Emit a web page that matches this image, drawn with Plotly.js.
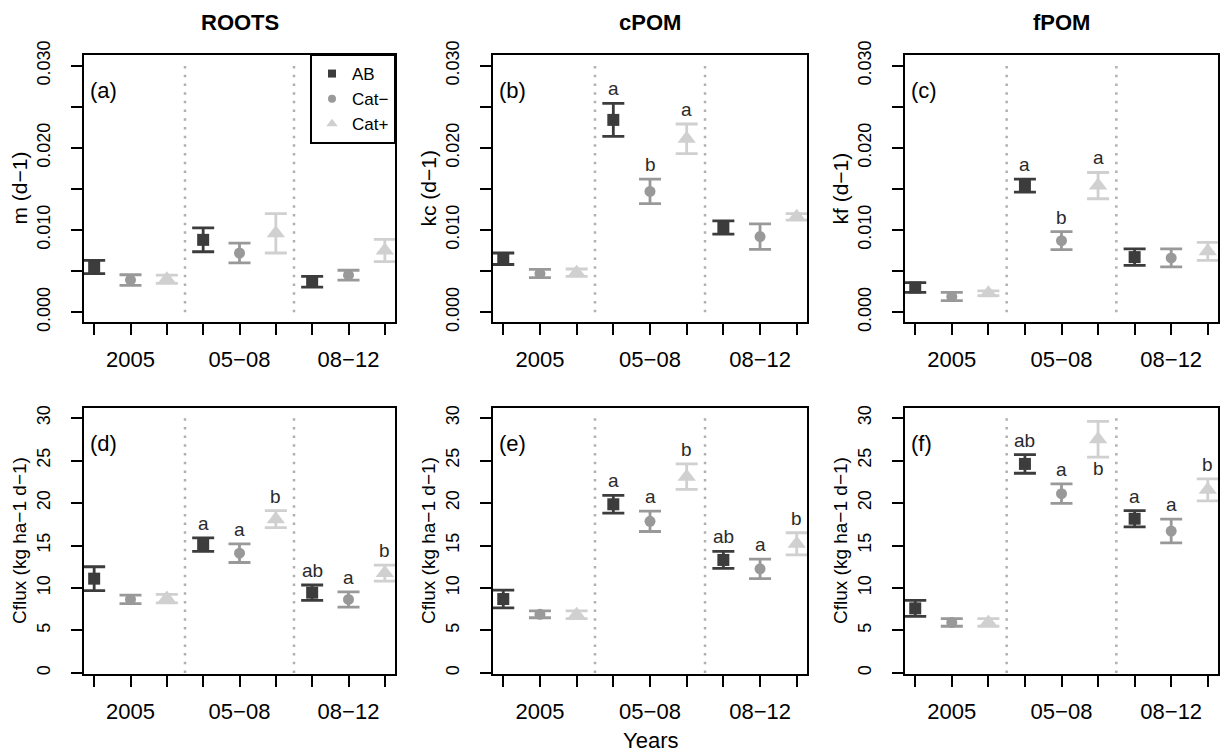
<!DOCTYPE html>
<html>
<head>
<meta charset="utf-8">
<script src="https://cdn.plot.ly/plotly-3.0.1.min.js"></script>
<style>html,body{margin:0;padding:0;background:#fff;}#chart{width:1225px;height:753px;}</style>
</head>
<body>
<div id="chart"></div>
<script>
// ---------------- DATA ----------------
const groups = ['2005', '05−08', '08−12'];
const seriesNames = ['AB', 'Cat−', 'Cat+'];
const panelTitles = ['ROOTS', 'cPOM', 'fPOM'];
const panelTags = ['(a)', '(b)', '(c)', '(d)', '(e)', '(f)'];
const yTitles = ['m (d−1)', 'kc (d−1)', 'kf (d−1)', 'Cflux (kg ha−1 d−1)', 'Cflux (kg ha−1 d−1)', 'Cflux (kg ha−1 d−1)'];
const xTickLabels = ['', '2005', '', '', '05−08', '', '', '08−12', ''];
const rateTickVals = [0, 0.005, 0.010, 0.015, 0.020, 0.025, 0.030];
const rateTickText = ['0.000', '', '0.010', '', '0.020', '', '0.030'];
const fluxTickVals = [0, 5, 10, 15, 20, 25, 30];
const fluxTickText = ['0', '5', '10', '15', '20', '25', '30'];

// rows: AB, Cat−, Cat+ ; columns: 2005, 05−08, 08−12
const rootsMean = [[0.0055, 0.0088, 0.0037], [0.0039, 0.0072, 0.0045], [0.0040, 0.0096, 0.0075]];
const rootsErr  = [[0.0008, 0.00145, 0.00065], [0.00065, 0.0012, 0.0006], [0.0005, 0.0024, 0.00135]];
const cpomMean  = [[0.0065, 0.0234, 0.0103], [0.0047, 0.0147, 0.0092], [0.0048, 0.0211, 0.0116]];
const cpomErr   = [[0.0007, 0.0020, 0.0008], [0.0005, 0.0015, 0.00155], [0.00045, 0.0018, 0.0004]];
const fpomMean  = [[0.0030, 0.0154, 0.0067], [0.0019, 0.0087, 0.0066], [0.0023, 0.0154, 0.0074]];
const fpomErr   = [[0.0006, 0.0008, 0.0010], [0.0005, 0.0011, 0.0011], [0.0003, 0.0016, 0.0011]];
const fluxRootsMean = [[11.1, 15.1, 9.45], [8.65, 14.1, 8.65], [8.75, 18.1, 11.75]];
const fluxRootsErr  = [[1.4, 0.8, 0.9], [0.5, 1.1, 0.9], [0.5, 1.0, 0.95]];
const fluxCpomMean  = [[8.7, 19.85, 13.3], [6.9, 17.85, 12.25], [6.85, 23.1, 15.2]];
const fluxCpomErr   = [[1.05, 1.05, 1.0], [0.4, 1.2, 1.15], [0.45, 1.5, 1.3]];
const fluxFpomMean  = [[7.6, 24.6, 18.15], [5.95, 21.1, 16.7], [5.95, 27.5, 21.55]];
const fluxFpomErr   = [[0.95, 1.1, 0.95], [0.45, 1.15, 1.4], [0.45, 2.1, 1.3]];

const rootsLetters = [['', '', ''], ['', '', ''], ['', '', '']];
const cpomLetters  = [['', 'a', ''], ['', 'b', ''], ['', 'a', '']];
const fpomLetters  = [['', 'a', ''], ['', 'b', ''], ['', 'a', '']];
const fluxRootsLetters = [['', 'a', 'ab'], ['', 'a', 'a'], ['', 'b', 'b']];
const fluxCpomLetters  = [['', 'a', 'ab'], ['', 'a', 'a'], ['', 'b', 'b']];
const fluxFpomLetters  = [['', 'ab', 'a'], ['', 'a', 'a'], ['', 'b', 'b']];
// letters drawn under the error bar instead of above
const fluxFpomLetterBelow = [[0, 0, 0], [0, 0, 0], [0, 1, 0]];

// ---------------- STYLE / LAYOUT ----------------
const FONT = 'Liberation Sans, Arial, Helvetica, sans-serif';
const colors = ['#3c3c3c', '#999999', '#d0d0d0'];
const symbols = ['square', 'circle', 'triangle-up'];
const sizes = [12, 11, 16];
const W = 1225, H = 753;
const colsX = [[84, 395], [493, 807], [905, 1218]];
const rowsY = [[55, 322], [408, 674]];

const panels = [
  {mean: rootsMean, err: rootsErr, letters: rootsLetters, below: null, rate: true},
  {mean: cpomMean, err: cpomErr, letters: cpomLetters, below: null, rate: true},
  {mean: fpomMean, err: fpomErr, letters: fpomLetters, below: null, rate: true},
  {mean: fluxRootsMean, err: fluxRootsErr, letters: fluxRootsLetters, below: null, rate: false},
  {mean: fluxCpomMean, err: fluxCpomErr, letters: fluxCpomLetters, below: null, rate: false},
  {mean: fluxFpomMean, err: fluxFpomErr, letters: fluxFpomLetters, below: fluxFpomLetterBelow, rate: false}
];

const traces = [];
const annotations = [];
const shapes = [];
const layout = {
  width: W, height: H,
  margin: {l: 0, r: 0, t: 0, b: 0},
  paper_bgcolor: '#fff', plot_bgcolor: '#fff',
  font: {family: FONT, color: '#000'},
  showlegend: true,
  legend: {
    x: (colsX[0][1] + 1) / W, xanchor: 'right',
    y: 1 - (rowsY[0][0] - 1) / H, yanchor: 'top',
    bgcolor: '#fff', bordercolor: '#000', borderwidth: 2,
    font: {family: FONT, size: 17, color: '#000'},
    itemwidth: 30, tracegroupgap: 0
  },
  annotations: annotations,
  shapes: shapes
};

panels.forEach((p, i) => {
  const n = i + 1;
  const r = i < 3 ? 0 : 1, c = i % 3;
  const xa = 'x' + (n === 1 ? '' : n), ya = 'y' + (n === 1 ? '' : n);
  const xk = 'xaxis' + (n === 1 ? '' : n), yk = 'yaxis' + (n === 1 ? '' : n);
  layout[xk] = {
    domain: [colsX[c][0] / W, colsX[c][1] / W],
    range: [0.72, 9.28], anchor: ya,
    tickmode: 'array', tickvals: [1, 2, 3, 4, 5, 6, 7, 8, 9], ticktext: xTickLabels,
    ticks: 'outside', ticklen: 11, tickwidth: 2, tickcolor: '#000',
    ticklabelstandoff: 6,
    tickfont: {family: FONT, size: 22, color: '#000'},
    showline: true, linewidth: 2, linecolor: '#000', mirror: true,
    showgrid: false, zeroline: false, fixedrange: true
  };
  layout[yk] = {
    domain: [1 - rowsY[r][1] / H, 1 - rowsY[r][0] / H],
    range: p.rate ? [-0.0012, 0.0313] : [-0.12, 31.18], anchor: xa,
    tickmode: 'array',
    tickvals: p.rate ? rateTickVals : fluxTickVals,
    ticktext: p.rate ? rateTickText : fluxTickText,
    tickangle: -90,
    ticks: 'outside', ticklen: 11, tickwidth: 2, tickcolor: '#000',
    ticklabelstandoff: 14,
    tickfont: {family: FONT, size: 18, color: '#000'},
    showline: true, linewidth: 2, linecolor: '#000', mirror: true,
    showgrid: false, zeroline: false, fixedrange: true
  };
  // dotted separators
  [3.5, 6.5].forEach(xv => shapes.push({
    type: 'line', xref: xa, yref: ya, x0: xv, x1: xv, y0: 0, y1: p.rate ? 0.03 : 30.7,
    line: {color: '#b0b0b0', width: 2.5, dash: '2.5px,6.2px'}, layer: 'below'
  }));
  // series
  seriesNames.forEach((s, si) => {
    const xs = groups.map((g, gi) => gi * 3 + si + 1);
    traces.push({
      type: 'scatter', mode: 'markers', xaxis: xa, yaxis: ya,
      x: xs, y: p.mean[si], name: s, showlegend: false, hoverinfo: 'skip',
      marker: {symbol: symbols[si], size: sizes[si], color: colors[si], line: {width: 0}},
      error_y: {type: 'data', array: p.err[si], visible: true, color: colors[si], thickness: 2.8, width: 11}
    });
    groups.forEach((g, gi) => {
      const t = p.letters[si][gi];
      if (!t) return;
      const below = p.below && p.below[si][gi];
      annotations.push({
        xref: xa, yref: ya, x: gi * 3 + si + 1,
        y: below ? p.mean[si][gi] - p.err[si][gi] : p.mean[si][gi] + p.err[si][gi],
        yanchor: below ? 'top' : 'bottom', yshift: below ? 1 : 2,
        text: t, showarrow: false, font: {family: FONT, size: 19, color: '#2a2a2a'}
      });
    });
  });
  // panel tag
  annotations.push({
    xref: xa + ' domain', yref: ya, x: 0.012, y: p.rate ? 0.027 : 27,
    xanchor: 'left', yanchor: 'middle', text: panelTags[i], showarrow: false,
    font: {family: FONT, size: 22, color: '#000'}
  });
  // y title
  annotations.push({
    xref: 'paper', yref: 'paper', x: (colsX[c][0] - 65) / W,
    y: 1 - (rowsY[r][0] + rowsY[r][1]) / 2 / H,
    xanchor: 'center', yanchor: 'middle', textangle: -90,
    text: yTitles[i], showarrow: false,
    font: {family: FONT, size: p.rate ? 21 : 19, color: '#000'}
  });
});

// column titles
panelTitles.forEach((t, c) => annotations.push({
  xref: 'paper', yref: 'paper', x: (colsX[c][0] + colsX[c][1]) / 2 / W, y: 1 - 23 / H,
  xanchor: 'center', yanchor: 'middle', text: '<b>' + t + '</b>', showarrow: false,
  font: {family: FONT, size: 22, color: '#000'}
}));
// x title
annotations.push({
  xref: 'paper', yref: 'paper', x: 650 / W, y: 1 - 740 / H,
  xanchor: 'center', yanchor: 'middle', text: 'Years', showarrow: false,
  font: {family: FONT, size: 22, color: '#000'}
});

// legend entries
seriesNames.forEach((s, si) => traces.push({
  type: 'scatter', mode: 'markers', x: [null], y: [null], xaxis: 'x', yaxis: 'y',
  name: s, showlegend: true, hoverinfo: 'skip',
  marker: {symbol: symbols[si], size: si === 2 ? 10 : 8, color: colors[si]}
}));

Plotly.newPlot('chart', traces, layout, {displayModeBar: false, staticPlot: true});
</script>
</body>
</html>
